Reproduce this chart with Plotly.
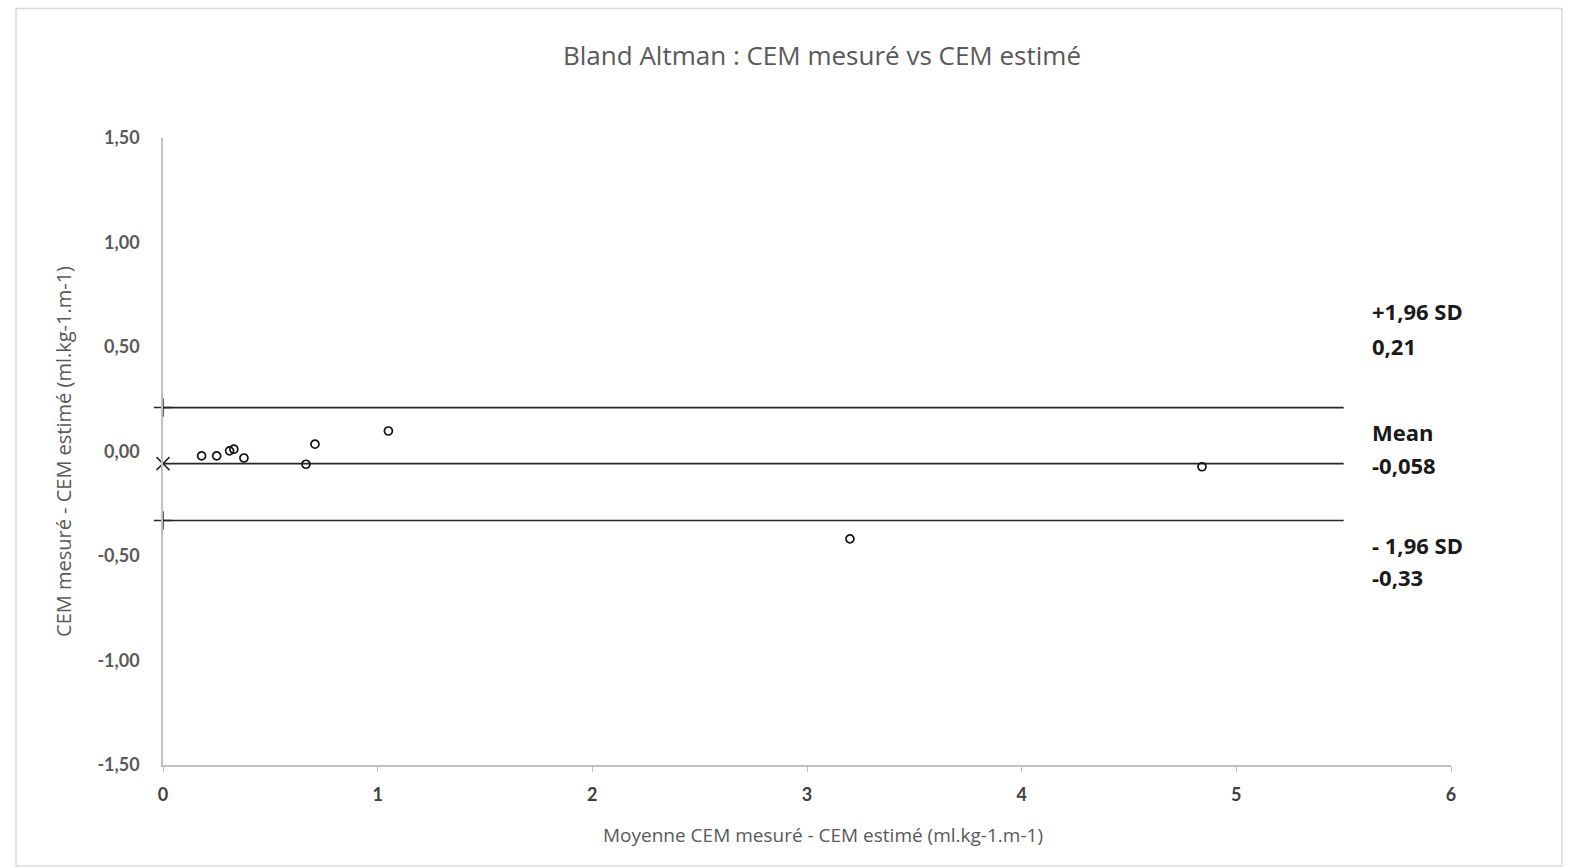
import plotly.graph_objects as go

# Bland-Altman data: mean of the two methods vs their difference
moyenne = [0.18, 0.25, 0.31, 0.33, 0.377, 0.666, 0.708, 1.05, 3.20, 4.84]
difference = [-0.021, -0.021, 0.003, 0.011, -0.031, -0.061, 0.035, 0.098, -0.418, -0.073]

# Agreement limits
mean_diff = -0.058
upper_loa = 0.21
lower_loa = -0.33
line_x = [0, 5.5]

x_ticks = [0, 1, 2, 3, 4, 5, 6]
y_ticks = [-1.5, -1.0, -0.5, 0.0, 0.5, 1.0, 1.5]
y_tick_text = ["-1,50", "-1,00", "-0,50", "0,00", "0,50", "1,00", "1,50"]


def fr(v, nd):
    return f"{v:.{nd}f}".replace(".", ",")


TICK_FONT = "Lato, 'Open Sans', sans-serif"
TEXT_FONT = "'Open Sans', Lato, sans-serif"
GREY = "#595959"

fig = go.Figure()

for yv, sym in [(upper_loa, "cross-thin"), (mean_diff, "x-thin"), (lower_loa, "cross-thin")]:
    fig.add_trace(go.Scatter(
        x=line_x, y=[yv, yv], mode="lines",
        line=dict(color="#262626", width=1.6),
        hoverinfo="skip", showlegend=False,
    ))
    fig.add_trace(go.Scatter(
        x=[line_x[0]], y=[yv], mode="markers", cliponaxis=False,
        marker=dict(symbol=sym, size=13, line=dict(color="#262626", width=1.5)),
        hoverinfo="skip", showlegend=False,
    ))

fig.add_trace(go.Scatter(
    x=moyenne, y=difference, mode="markers",
    marker=dict(symbol="circle-open", size=8, color="#111111", line=dict(width=1.7)),
    showlegend=False,
))

# Labels for the limits, placed to the right of the lines
labels = [
    ("+1,96 SD", fr(upper_loa, 2), 311, 346),
    ("Mean", fr(mean_diff, 3), 432, 465),
    ("- 1,96 SD", fr(lower_loa, 2), 545, 577),
]
plot_left, plot_width = 163, 1288
plot_top, plot_bottom = 137.5, 765.0


def xpaper(px):
    return (px - plot_left) / plot_width


def ypaper(py):
    return (plot_bottom - py) / (plot_bottom - plot_top)


for head, val, y1, y2 in labels:
    for txt, py in [(head, y1), (val, y2)]:
        fig.add_annotation(
            x=xpaper(1370), y=ypaper(py), xref="paper", yref="paper",
            text=f"<b>{txt}</b>", showarrow=False, xanchor="left", yanchor="middle",
            font=dict(family=TEXT_FONT, size=22, color="#1a1a1a"),
        )

# X axis title, centred under the chart area
fig.add_annotation(
    x=xpaper(823), y=ypaper(835), xref="paper", yref="paper",
    text="Moyenne CEM mesuré - CEM estimé (ml.kg-1.m-1)", showarrow=False,
    xanchor="center", yanchor="middle",
    font=dict(family=TEXT_FONT, size=19, color=GREY),
)

# Outer chart border
fig.add_shape(
    type="rect", xref="paper", yref="paper",
    x0=xpaper(16), x1=xpaper(1562),
    y0=ypaper(866), y1=ypaper(8),
    line=dict(color="#d9d9d9", width=1.5), fillcolor="rgba(0,0,0,0)", layer="below",
)

fig.update_layout(
    width=1573, height=868, autosize=False,
    margin=dict(l=163, r=122, t=137.5, b=103),
    paper_bgcolor="white", plot_bgcolor="white",
    title=dict(
        text="Bland Altman : CEM mesuré vs CEM estimé",
        x=xpaper(822), xref="paper", xanchor="center",
        y=1 - 56 / 868, yanchor="middle",
        font=dict(family=TEXT_FONT, size=26, color=GREY),
    ),
    xaxis=dict(
        range=[0, 6], tickvals=x_ticks, ticktext=[str(t) for t in x_ticks],
        showgrid=False, zeroline=False,
        showline=True, linecolor="#bfbfbf", linewidth=1.5,
        ticks="outside", ticklen=5, tickcolor="#bfbfbf", ticklabelstandoff=8,
        tickfont=dict(family=TICK_FONT, size=18, color="#404040", weight="bold"),
    ),
    yaxis=dict(
        range=[-1.5, 1.5], tickvals=y_ticks, ticktext=y_tick_text,
        showgrid=False, zeroline=False,
        showline=True, linecolor="#bfbfbf", linewidth=1.5,
        ticks="", ticklabelstandoff=18,
        tickfont=dict(family=TICK_FONT, size=18, color=GREY, weight="bold"),
        title=dict(text="CEM mesuré - CEM estimé (ml.kg-1.m-1)",
                   font=dict(family=TEXT_FONT, size=20, color=GREY), standoff=20),
    ),
)

fig.write_html("out.html")
